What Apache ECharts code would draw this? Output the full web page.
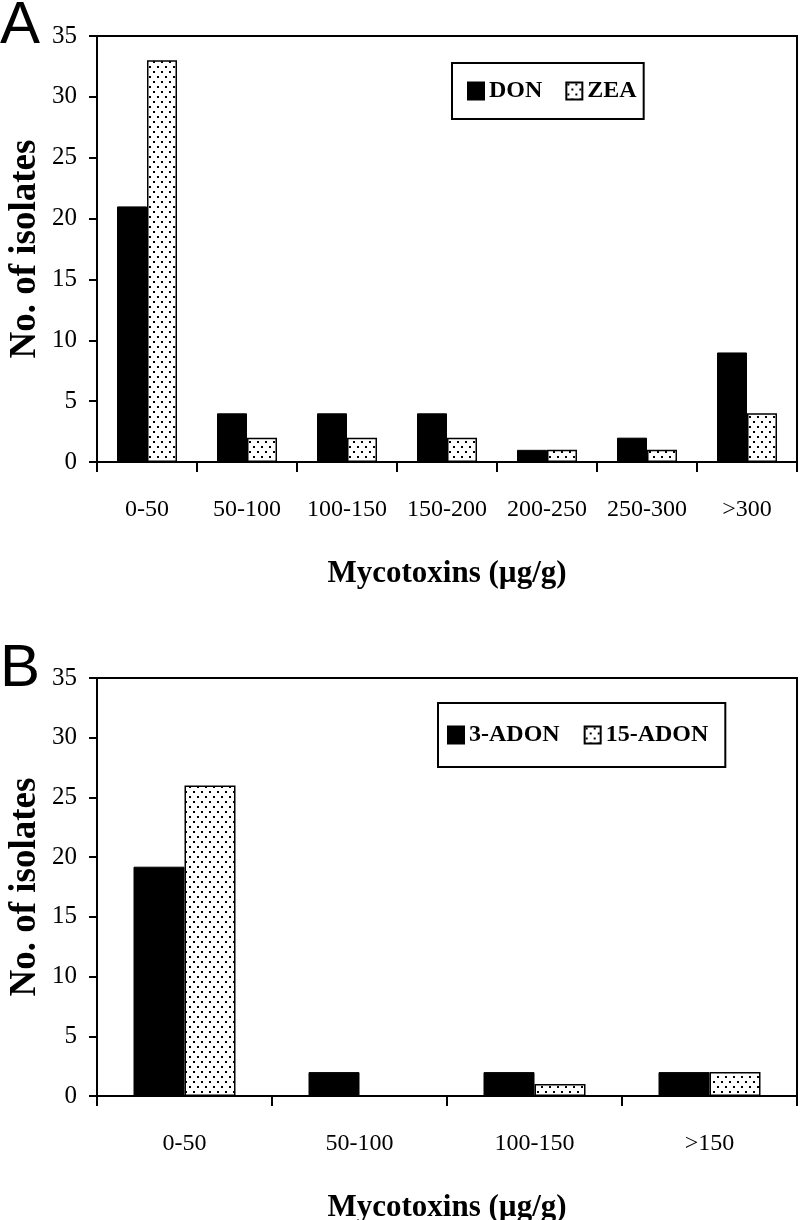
<!DOCTYPE html>
<html>
<head>
<meta charset="utf-8">
<script src="https://cdn.jsdelivr.net/npm/echarts@6/dist/echarts.min.js"></script>
<style>
html,body{margin:0;padding:0;background:#fff;}
#chart{width:800px;height:1220px;}
</style>
</head>
<body>
<div id="chart"></div>
<script>
// ---- data ----
var catsA = ['0-50', '50-100', '100-150', '150-200', '200-250', '250-300', '>300'];
var donA = [21, 4, 4, 4, 1, 2, 9];
var zeaA = [33, 2, 2, 2, 1, 1, 4];
var catsB = ['0-50', '50-100', '100-150', '>150'];
var adon3B = [19.2, 2, 2, 2];
var adon15B = [26, 0, 1, 2];
var yTicks = [0, 5, 10, 15, 20, 25, 30, 35];

// dotted pattern
var pc = document.createElement('canvas');
pc.width = 8; pc.height = 10;
var ctx = pc.getContext('2d');
ctx.fillStyle = '#fff'; ctx.fillRect(0, 0, 8, 10);
ctx.fillStyle = '#000';
ctx.fillRect(1, 1, 2, 2);
ctx.fillRect(5, 6, 2, 2);
var dotted = { image: pc, repeat: 'repeat' };

var serif = '"Liberation Serif", "Times New Roman", serif';

function xAxis(idx, cats) {
  return {
    type: 'category', gridIndex: idx, data: cats,
    axisLine: { lineStyle: { color: '#000', width: 2 } },
    axisTick: { show: true, length: 10, interval: 0, lineStyle: { color: '#000', width: 2 } },
    axisLabel: { interval: 0, margin: 36, color: '#000', fontFamily: serif, fontSize: 24 },
    name: 'Mycotoxins (\u00b5g/g)', nameLocation: 'middle', nameGap: 96, nameMoveOverlap: false,
    nameTextStyle: { color: '#000', fontFamily: serif, fontSize: 31, fontWeight: 'bold' }
  };
}
function yAxis(idx) {
  return {
    type: 'value', gridIndex: idx, min: 0, max: 35, interval: 5,
    axisLine: { show: true, lineStyle: { color: '#000', width: 2 } },
    axisTick: { show: true, length: 8, lineStyle: { color: '#000', width: 2 } },
    splitLine: { show: false },
    axisLabel: { margin: 20, color: '#000', fontFamily: serif, fontSize: 25,
      formatter: function (v) { return yTicks.indexOf(v) >= 0 ? String(v) : ''; } },
    name: 'No. of isolates', nameLocation: 'middle', nameGap: 53, nameMoveOverlap: false,
    nameTextStyle: { color: '#000', fontFamily: serif, fontSize: 37, fontWeight: 'bold' }
  };
}
var legendText = { color: '#000', fontFamily: serif, fontSize: 24, fontWeight: 'bold' };

var option = {
  backgroundColor: '#fff',
  animation: false,
  graphic: [
    { type: 'text', left: 0, top: -4, style: { text: 'A', font: '60px "Liberation Sans", Arial, sans-serif', fill: '#000' } },
    { type: 'text', left: 0, top: 639, style: { text: 'B', font: '60px "Liberation Sans", Arial, sans-serif', fill: '#000' } }
  ],
  grid: [
    { left: 97, top: 36, width: 700, height: 426, show: true, borderColor: '#000', borderWidth: 2,
      backgroundColor: 'transparent', containLabel: false, outerBoundsMode: 'none' },
    { left: 97, top: 678, width: 700, height: 418, show: true, borderColor: '#000', borderWidth: 2,
      backgroundColor: 'transparent', containLabel: false, outerBoundsMode: 'none' }
  ],
  legend: [
    { data: ['DON', 'ZEA'], left: 452, top: 63, orient: 'horizontal', icon: 'rect',
      itemWidth: 16, itemHeight: 17, itemGap: 23, padding: [16, 7, 16, 15],
      borderColor: '#000', borderWidth: 2, textStyle: legendText },
    { data: ['3-ADON', '15-ADON'], left: 438, top: 703, orient: 'horizontal', icon: 'rect',
      itemWidth: 16, itemHeight: 17, itemGap: 24, padding: [20, 17, 20, 9],
      borderColor: '#000', borderWidth: 2, textStyle: legendText }
  ],
  xAxis: [xAxis(0, catsA), xAxis(1, catsB)],
  yAxis: [yAxis(0), yAxis(1)],
  series: [
    { name: 'DON', type: 'bar', xAxisIndex: 0, yAxisIndex: 0, data: donA, barWidth: 30, barGap: '0%',
      itemStyle: { color: '#000', borderColor: '#000', borderWidth: 1 } },
    { name: 'ZEA', type: 'bar', xAxisIndex: 0, yAxisIndex: 0, data: zeaA, barWidth: 30, barGap: '0%',
      itemStyle: { color: dotted, borderColor: '#000', borderWidth: 1.5 } },
    { name: '3-ADON', type: 'bar', xAxisIndex: 1, yAxisIndex: 1, data: adon3B, barWidth: 51, barGap: '0%',
      itemStyle: { color: '#000', borderColor: '#000', borderWidth: 1 } },
    { name: '15-ADON', type: 'bar', xAxisIndex: 1, yAxisIndex: 1, data: adon15B, barWidth: 51, barGap: '0%',
      itemStyle: { color: dotted, borderColor: '#000', borderWidth: 1.5 } }
  ]
};
var chart = echarts.init(document.getElementById('chart'), null, { renderer: 'canvas' });
chart.setOption(option);
</script>
</body>
</html>
